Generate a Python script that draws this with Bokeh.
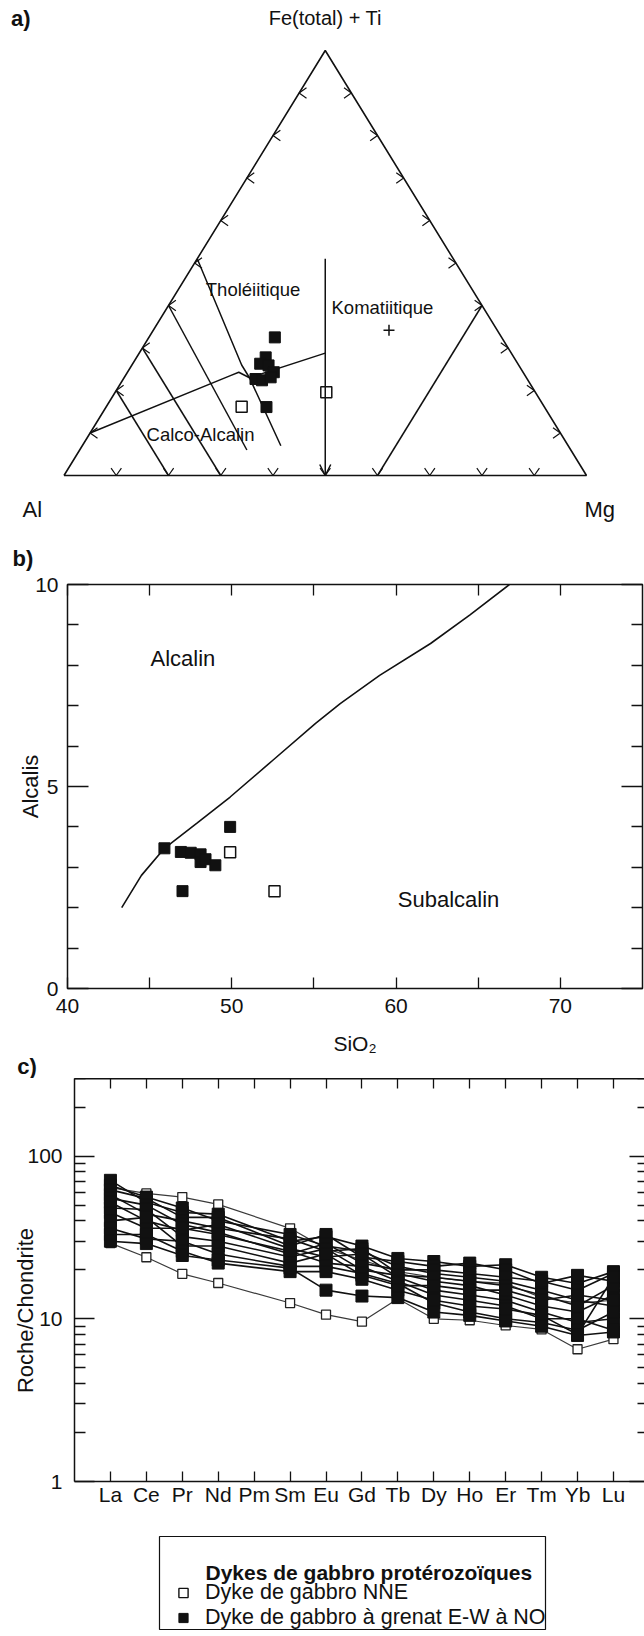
import math
from bokeh.plotting import figure
from bokeh.layouts import column
from bokeh.models import (Range1d, Label, LinearAxis, LogAxis, FixedTicker, Arrow,
                          OpenHead, Legend, LegendItem, CustomJSTickFormatter,
                          NumeralTickFormatter)
from bokeh.embed import file_html
from bokeh.resources import INLINE

FONT = "Liberation Sans"
FS_TXT = "22px"
FS_FIELD = "18.5px"
FS_TICK = "21px"
FS_LEG = "21.5px"
INK = "#111111"
NBSP = "\u00a0"

# ------------------------------------------------------------------ data
# a) Jensen cation plot, compositions in % (Al, Fe(total)+Ti, Mg)
tern_tick_values = [10, 20, 30, 40, 50, 60, 70, 80, 90]
a_garnet_al = [43.4, 47.5, 49.3, 47.9, 47.7, 52.0, 50.9, 48.9, 53.2]
a_garnet_fe = [32.5, 27.8, 26.3, 25.9, 24.3, 22.7, 22.4, 23.1, 16.1]
a_garnet_mg = [24.1, 24.7, 24.4, 26.2, 28.0, 25.3, 26.7, 28.0, 30.7]
a_nne_al = [57.9, 40.0]
a_nne_fe = [16.2, 19.6]
a_nne_mg = [25.9, 40.4]
a_cross_al = [20.7]
a_cross_fe = [34.2]
a_cross_mg = [45.1]
# field boundaries
a_thca_al = [90.0, 56.4, 54.4, 53.0, 35.6]
a_thca_fe = [10.0, 23.5, 24.3, 23.0, 28.8]
a_thca_mg = [0.0, 20.1, 21.3, 24.0, 35.6]
a_th_al = [49.0, 53.0, 53.0, 55.0]
a_th_fe = [51.0, 26.0, 23.0, 7.0]
a_th_mg = [0.0, 21.0, 24.0, 38.0]
a_l60_al = [60.0, 62.0]
a_l60_fe = [40.0, 6.0]
a_l60_mg = [0.0, 32.0]
a_l70_al = [70.0, 70.0]
a_l70_fe = [30.0, 0.0]
a_l70_mg = [0.0, 30.0]
a_l80_al = [80.0, 80.0]
a_l80_fe = [20.0, 0.0]
a_l80_mg = [0.0, 20.0]
a_kom_al = [24.5, 50.0]
a_kom_fe = [51.0, 0.0]
a_kom_mg = [24.5, 50.0]
a_mg60_al = [40.0, 0.0]
a_mg60_fe = [0.0, 40.0]
a_mg60_mg = [60.0, 60.0]

# b) Alcalis vs SiO2
b_line_sio2 = [43.3, 44.5, 45.9, 47.9, 49.9, 52.5, 55.1, 56.6, 59.0, 62.1, 64.5, 66.9]
b_line_alk = [2.0, 2.8, 3.47, 4.1, 4.74, 5.65, 6.56, 7.05, 7.75, 8.54, 9.25, 10.0]
b_garnet_sio2 = [45.9, 46.9, 47.5, 48.1, 48.1, 48.4, 49.0, 49.9, 47.0]
b_garnet_alk = [3.47, 3.38, 3.36, 3.32, 3.13, 3.2, 3.05, 4.0, 2.41]
b_nne_sio2 = [49.9, 52.6]
b_nne_alk = [3.37, 2.41]
b_xticks = [40, 50, 60, 70]
b_xminor = [45, 55, 65]
b_yticks = [0, 5, 10]
b_yminor = [1, 2, 3, 4, 6, 7, 8, 9]

# c) REE normalised to chondrite
c_elements = ["La", "Ce", "Pr", "Nd", "Pm", "Sm", "Eu", "Gd", "Tb", "Dy", "Ho", "Er", "Tm", "Yb", "Lu"]
c_measured = ["La", "Ce", "Pr", "Nd", "Sm", "Eu", "Gd", "Tb", "Dy", "Ho", "Er", "Tm", "Yb", "Lu"]
c_garnet = [
    [71, 52, 45, 44, 30, 32, 28, 23.5, 22.5, 21, 21.5, 18, 16.5, 19.5],
    [66, 56, 48, 40, 33, 28, 26, 21, 19, 18, 17, 15, 13, 12],
    [62, 55, 42, 42, 28, 33, 24, 22.5, 21, 22, 20, 16.5, 18.5, 17],
    [58, 44, 40, 36, 31, 26, 27, 19, 17, 16, 14, 12, 11, 14],
    [55, 50, 38, 34, 25, 29, 22, 20, 20, 19, 18, 17, 15, 19],
    [52, 40, 35, 38, 27, 24, 25, 18, 15, 14, 13, 11, 9.5, 10],
    [48, 47, 32, 30, 24, 27, 20, 18.5, 18, 17, 16, 14, 12, 16],
    [45, 36, 36, 33, 26, 22, 21, 17, 14, 13, 12, 10, 10, 8.5],
    [40, 42, 28, 28, 22, 25, 18.5, 16, 16, 15, 15, 13, 14, 13],
    [36, 31, 30, 25, 21, 21, 19, 16.5, 12.5, 11, 10, 9.5, 8.5, 11],
    [33, 33, 26, 22, 19.5, 19.5, 17.5, 15, 13, 12, 11.5, 10.5, 8, 18],
    [30, 29, 24.5, 23, 20.5, 15, 13.8, 13.5, 11, 10.5, 9.7, 9.0, 7.9, 8.3],
]
c_nne = [
    [29.2, 23.9, 18.9, 16.6, 12.5, 10.6, 9.6, 13.3, 10.0, 9.8, 9.1, 8.6, 6.5, 7.5],
    [64, 59, 56, 50.5, 36, 27, 23, 19.5, 18, 17, 16.5, 13.5, 12.5, 13],
]
c_yticks = [1, 10, 100]
c_yminor = [2, 3, 4, 5, 6, 7, 8, 9, 20, 30, 40, 50, 60, 70, 80, 90, 200, 300]

legend_title = "Dykes de gabbro protérozoïques"
legend_labels = ["Dyke de gabbro NNE", "Dyke de gabbro à grenat E-W à NO"]


def no_labels():
    return CustomJSTickFormatter(code="return ''")


def unalign(p):
    if "frame_align" in p.properties():
        p.frame_align = False


def lab(p, x, y, text, align="left", bold=False, size=FS_TXT, angle=0.0):
    p.add_layout(Label(x=x, y=y, text=text, text_font=FONT, text_font_size=size,
                       text_font_style="bold" if bold else "normal", text_color=INK,
                       text_align=align, text_baseline="middle", angle=angle))


def style(ax, tin, minin, standoff=8):
    ax.axis_line_color = None
    ax.major_tick_in = tin
    ax.major_tick_out = 0
    ax.minor_tick_in = minin
    ax.minor_tick_out = 0
    ax.major_tick_line_color = INK
    ax.minor_tick_line_color = INK
    ax.major_tick_line_width = 1.3
    ax.minor_tick_line_width = 1.3
    ax.major_label_text_font = FONT
    ax.major_label_text_font_size = FS_TICK
    ax.major_label_text_color = INK
    ax.major_label_standoff = standoff


def blank(ax):
    ax.formatter = no_labels()
    ax.major_label_text_font_size = "0px"


def axis_title(ax, text, standoff):
    ax.axis_label = text
    ax.axis_label_text_font = FONT
    ax.axis_label_text_font_size = FS_TXT
    ax.axis_label_text_font_style = "normal"
    ax.axis_label_text_color = INK
    ax.axis_label_standoff = standoff


def strip(top, height):
    # a blank band whose data units are the page pixels, used for free-standing texts
    p = figure(width=644, height=height, x_range=Range1d(0, 644),
               y_range=Range1d(top + height, top), x_axis_type=None, y_axis_type=None,
               output_backend="svg", toolbar_location=None, min_border=0,
               outline_line_color=None, background_fill_color="white")
    p.grid.visible = False
    unalign(p)
    return p


# ------------------------------------------------------------------ a) ternary
A_LEFT, A_RIGHT, A_APEX_Y, A_BASE_Y = 63.5, 586.0, 50.0, 475.0   # canvas px of triangle
FIG_A_W, FIG_A_H = 644, 571
PXX = A_RIGHT - A_LEFT
PXY = A_BASE_Y - A_APEX_Y
a_x0 = (0 - A_LEFT) / PXX
a_x1 = (FIG_A_W - A_LEFT) / PXX
a_y0 = (A_BASE_Y - FIG_A_H) / PXY
a_y1 = A_BASE_Y / PXY


def tern(al, fe, mg):
    xs, ys = [], []
    for a, f, m in zip(al, fe, mg):
        s = a + f + m
        xs.append((m + 0.5 * f) / s)
        ys.append(f / s)
    return xs, ys


fa = figure(width=FIG_A_W, height=FIG_A_H, x_range=Range1d(a_x0, a_x1),
            y_range=Range1d(a_y0, a_y1), x_axis_type=None, y_axis_type=None,
            output_backend="svg", toolbar_location=None, min_border=0,
            outline_line_color=None, background_fill_color="white")
fa.grid.visible = False
unalign(fa)

LW = 1.5
tx, ty = tern([100, 0, 0, 100], [0, 100, 0, 0], [0, 0, 100, 0])
fa.line(tx, ty, line_color=INK, line_width=1.6)

for al, fe, mg in [(a_thca_al, a_thca_fe, a_thca_mg), (a_th_al, a_th_fe, a_th_mg),
                   (a_l60_al, a_l60_fe, a_l60_mg), (a_l70_al, a_l70_fe, a_l70_mg),
                   (a_l80_al, a_l80_fe, a_l80_mg), (a_mg60_al, a_mg60_fe, a_mg60_mg)]:
    x, y = tern(al, fe, mg)
    fa.line(x, y, line_color=INK, line_width=LW)

kx, ky = tern(a_kom_al, a_kom_fe, a_kom_mg)
fa.add_layout(Arrow(end=OpenHead(size=11, line_width=LW, line_color=INK),
                    x_start=kx[0], y_start=ky[0], x_end=kx[1], y_end=ky[1],
                    line_color=INK, line_width=LW))

# chevron ticks on the three sides
L = 9.0
ang = math.radians(35)
cxs, cys = [], []
for t in tern_tick_values:
    dx, dy = L * math.cos(ang) / PXX, L * math.sin(ang) / PXY
    (X,), (Y,) = tern([100 - t], [t], [0])
    cxs.append([X + dx, X, X + dx]); cys.append([Y + dy, Y, Y - dy])
    (X,), (Y,) = tern([0], [t], [100 - t])
    cxs.append([X - dx, X, X - dx]); cys.append([Y + dy, Y, Y - dy])
    dx2, dy2 = L * math.sin(ang) / PXX, L * math.cos(ang) / PXY
    (X,), (Y,) = tern([100 - t], [0], [t])
    cxs.append([X - dx2, X, X + dx2]); cys.append([Y + dy2, Y, Y + dy2])
fa.multi_line(cxs, cys, line_color=INK, line_width=1.2)

gx, gy = tern(a_garnet_al, a_garnet_fe, a_garnet_mg)
fa.scatter(gx, gy, marker="square", size=11, fill_color=INK, line_color=INK)
nx, ny = tern(a_nne_al, a_nne_fe, a_nne_mg)
fa.scatter(nx, ny, marker="square", size=11, fill_color="white", line_color=INK, line_width=1.5)
px, py = tern(a_cross_al, a_cross_fe, a_cross_mg)
fa.scatter(px, py, marker="cross", size=11, line_color=INK, line_width=1.5)


def ax_px(px_):
    return (px_ - A_LEFT) / PXX


def ay_px(py_):
    return (A_BASE_Y - py_) / PXY


lab(fa, ax_px(10.5), ay_px(18), "a)", bold=True)
lab(fa, 0.5, ay_px(17), "Fe(total) + Ti", align="center", size="20px")
lab(fa, ax_px(22), ay_px(509), "Al")
lab(fa, ax_px(584), ay_px(509), "Mg")
lab(fa, ax_px(252.6), ay_px(289), "Tholéiitique", align="center", size=FS_FIELD)
lab(fa, ax_px(331), ay_px(307), "Komatiitique", size=FS_FIELD)
lab(fa, ax_px(200), ay_px(434), "Calco-Alcalin", align="center", size=FS_FIELD)
lab(fa, ax_px(12), ay_px(558), "b)", bold=True)

# ------------------------------------------------------------------ b) alcalis vs SiO2
B_LEFT, B_RIGHT, B_TOP, B_BOTTOM = 67, 642, 584, 988
FIG_B_TOP, FIG_B_H = 571, 452
fb = figure(width=644, height=FIG_B_H, x_range=Range1d(40, 75), y_range=Range1d(0, 10),
            output_backend="svg", toolbar_location=None,
            min_border_left=B_LEFT, min_border_right=644 - B_RIGHT,
            min_border_top=B_TOP - FIG_B_TOP, min_border_bottom=FIG_B_TOP + FIG_B_H - B_BOTTOM,
            background_fill_color="white")
fb.grid.visible = False
fb.outline_line_color = INK
fb.outline_line_width = 1.5
unalign(fb)

xb = fb.xaxis[0]
xb.ticker = FixedTicker(ticks=b_xticks, minor_ticks=b_xminor)
style(xb, 11, 11, standoff=10)

yb = fb.yaxis[0]
yb.ticker = FixedTicker(ticks=b_yticks, minor_ticks=b_yminor)
style(yb, 21, 11, standoff=9)
axis_title(yb, "Alcalis", -11)

tb = LinearAxis(ticker=FixedTicker(ticks=b_xticks, minor_ticks=b_xminor))
style(tb, 11, 11, standoff=0)
blank(tb)
fb.add_layout(tb, "above")
rb = LinearAxis(ticker=FixedTicker(ticks=b_yticks, minor_ticks=b_yminor))
style(rb, 21, 11, standoff=0)
blank(rb)
fb.add_layout(rb, "right")

fb.line(b_line_sio2, b_line_alk, line_color=INK, line_width=1.6)
fb.scatter(b_garnet_sio2, b_garnet_alk, marker="square", size=11, fill_color=INK, line_color=INK)
fb.scatter(b_nne_sio2, b_nne_alk, marker="square", size=11, fill_color="white",
           line_color=INK, line_width=1.5)

B_PX = (B_RIGHT - B_LEFT) / 35.0
B_PY = (B_BOTTOM - B_TOP) / 10.0
lab(fb, 40 + (150 - B_LEFT) / B_PX, (B_BOTTOM - 658.3) / B_PY, "Alcalin")
lab(fb, 40 + (397.3 - B_LEFT) / B_PX, (B_BOTTOM - 899.3) / B_PY, "Subalcalin")

# ------------------------------------------------------------------ band: x title of b), tag c)
FIG_S_TOP, FIG_S_H = 1023, 55
fs = strip(FIG_S_TOP, FIG_S_H)
lab(fs, (B_LEFT + B_RIGHT) / 2, 1043, "SiO₂", align="center", size="21px")
lab(fs, 16.7, 1065.5, "c)", bold=True)

# ------------------------------------------------------------------ c) REE spider diagram
c_pos = {e: i + 1 for i, e in enumerate(c_elements)}
c_x = [c_pos[e] for e in c_measured]

C_LEFT, C_TOP, C_BOTTOM = 74, 1078, 1481
FIG_C_TOP, FIG_C_H = 1078, 434
fc = figure(width=644, height=FIG_C_H, x_range=Range1d(0, 15.864), y_range=Range1d(1, 300),
            y_axis_type="log", output_backend="svg", toolbar_location=None,
            min_border_left=C_LEFT, min_border_right=0, min_border_top=C_TOP - FIG_C_TOP,
            min_border_bottom=FIG_C_TOP + FIG_C_H - C_BOTTOM, background_fill_color="white")
fc.grid.visible = False
fc.outline_line_color = None
unalign(fc)

xc = fc.xaxis[0]
xc.ticker = FixedTicker(ticks=list(c_pos.values()))
xc.major_label_overrides = {v: k for k, v in c_pos.items()}
style(xc, 10, 0, standoff=1)
xc.axis_line_color = INK
xc.axis_line_width = 1.5

yc = fc.yaxis[0]
yc.ticker = FixedTicker(ticks=c_yticks, minor_ticks=c_yminor)
yc.formatter = NumeralTickFormatter(format="0")
style(yc, 20, 11, standoff=12)
yc.axis_line_color = INK
yc.axis_line_width = 1.5
axis_title(yc, "Roche/Chondrite" + NBSP * 10, -14)

tc = LinearAxis(ticker=FixedTicker(ticks=list(c_pos.values())))
style(tc, 10, 0, standoff=0)
blank(tc)
tc.axis_line_color = INK
tc.axis_line_width = 2.0
fc.add_layout(tc, "above")
rc = LogAxis(ticker=FixedTicker(ticks=c_yticks, minor_ticks=c_yminor))
style(rc, 15, 7, standoff=0)
blank(rc)
fc.add_layout(rc, "right")

for row in c_nne:
    fc.line(c_x, row, line_color="#3a3a3a", line_width=1.2)
for row in c_garnet:
    fc.line(c_x, row, line_color=INK, line_width=1.6)
for row in c_nne:
    fc.scatter(c_x, row, marker="square", size=9, fill_color="white", line_color="#222222",
               line_width=1.3)
for row in c_garnet:
    fc.scatter(c_x, row, marker="square", size=12, fill_color=INK, line_color=INK)

# ------------------------------------------------------------------ legend box
D_LEFT, D_RIGHT, D_TOP, D_BOTTOM = 159, 545, 1536, 1629
FIG_D_TOP, FIG_D_H = 1512, 124
fd = figure(width=644, height=FIG_D_H, x_range=Range1d(0, 1), y_range=Range1d(0, 1),
            x_axis_type=None, y_axis_type=None, output_backend="svg", toolbar_location=None,
            min_border_left=D_LEFT, min_border_right=644 - D_RIGHT,
            min_border_top=D_TOP - FIG_D_TOP, min_border_bottom=FIG_D_TOP + FIG_D_H - D_BOTTOM,
            outline_line_color=INK, outline_line_width=1.2, background_fill_color="white")
fd.grid.visible = False
unalign(fd)
# legend proxies (placed outside the visible range, only their style is used)
r_open = fd.scatter(x=[5], y=[5], marker="square", size=10, fill_color="white",
                    line_color=INK, line_width=1.4)
r_fill = fd.scatter(x=[5], y=[5], marker="square", size=10, fill_color=INK, line_color=INK)
leg = Legend(items=[LegendItem(label=legend_labels[0], renderers=[r_open]),
                    LegendItem(label=legend_labels[1], renderers=[r_fill])],
             location=(12, -1), margin=0, padding=0, spacing=0,
             glyph_width=24, glyph_height=23, label_height=23, label_standoff=10,
             label_text_font=FONT, label_text_font_size=FS_LEG, label_text_color=INK,
             border_line_color=None, background_fill_alpha=0)
fd.add_layout(leg)
D_W = D_RIGHT - D_LEFT
D_H = D_BOTTOM - D_TOP
lab(fd, (205 - D_LEFT) / D_W, (D_BOTTOM - 1572) / D_H, legend_title, bold=True, size="21px")

layout = column(fa, fb, fs, fc, fd, spacing=0)
open("out.html", "w").write(file_html(layout, INLINE))
